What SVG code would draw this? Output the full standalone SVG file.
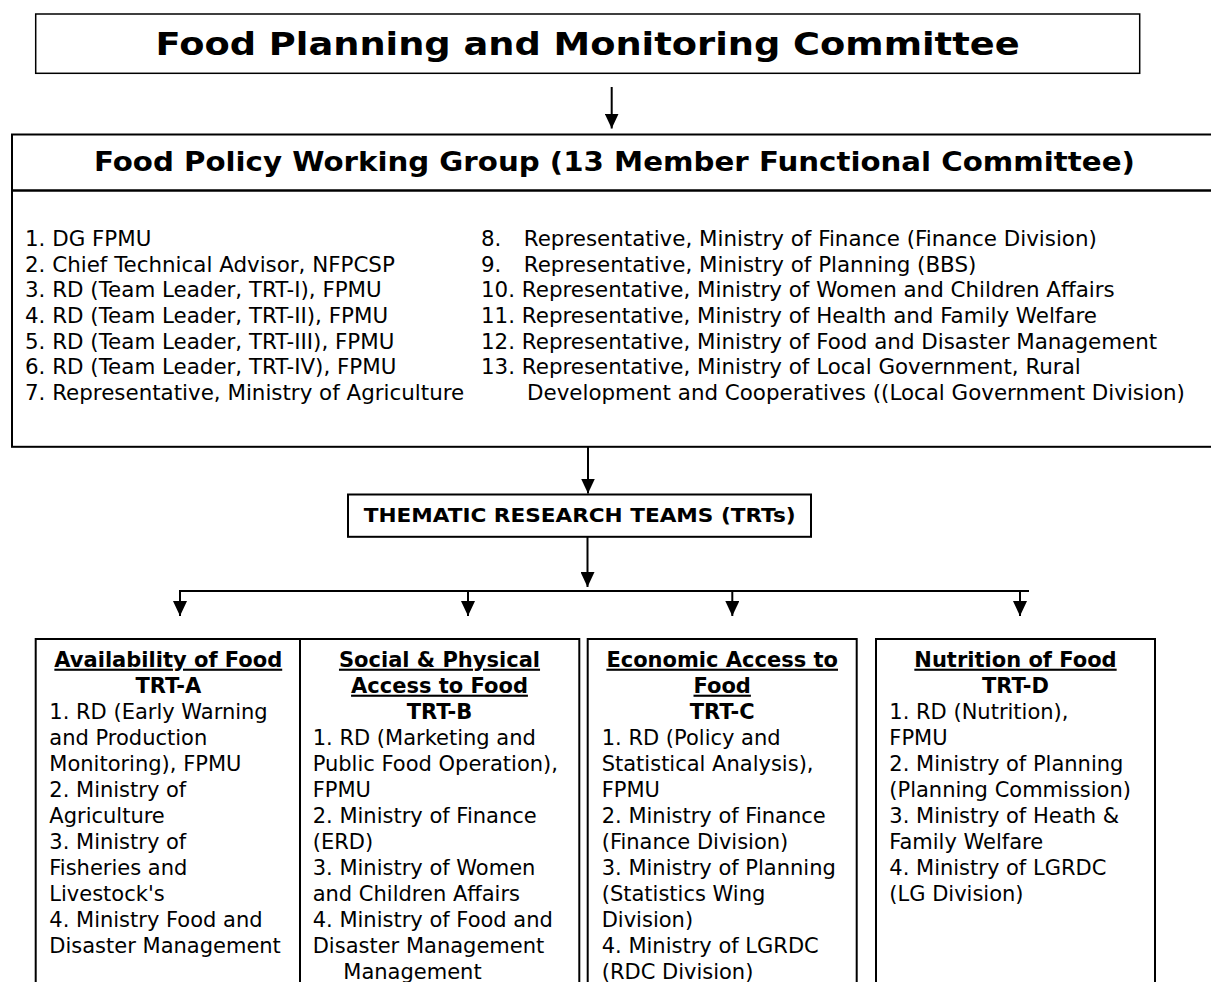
<svg xmlns="http://www.w3.org/2000/svg" width="1211" height="982" viewBox="0 0 1211 982">
  <style>
    .box { fill: #ffffff; stroke: #000000; stroke-width: 2; }
    .thin { stroke-width: 1.5; }
    .t { font-family: "DejaVu Sans", Verdana, sans-serif; fill: #000000; }
    .title { font-weight: bold; text-anchor: middle; }
    .body { font-size: 21px; }
    .list { font-size: 21.4px; }
    .hd { font-size: 21px; font-weight: bold; text-anchor: middle; }
    .ul { text-decoration: underline; }
    .conn { stroke: #000000; stroke-width: 2; fill: none; }
  </style>
  <defs>
    <marker id="arrow" viewBox="0 0 15 14" markerWidth="15" markerHeight="14" refX="15" refY="7" orient="auto" markerUnits="userSpaceOnUse">
      <path d="M0,0 L15,7 L0,14 Z" fill="#000000"/>
    </marker>
  </defs>
  <rect x="0" y="0" width="1211" height="982" fill="#ffffff"/>

  <g id="connectors">
    <line class="conn" x1="611.7" y1="87" x2="611.7" y2="128.5" stroke-width="1.5" marker-end="url(#arrow)"/>
    <line class="conn" x1="588" y1="447" x2="588" y2="493.5" marker-end="url(#arrow)"/>
    <line class="conn" x1="587.5" y1="537" x2="587.5" y2="587" marker-end="url(#arrow)"/>
    <line class="conn" x1="179" y1="591" x2="1029" y2="591"/>
    <line class="conn" x1="180" y1="591" x2="180" y2="616" marker-end="url(#arrow)"/>
    <line class="conn" x1="468" y1="591" x2="468" y2="616" marker-end="url(#arrow)"/>
    <line class="conn" x1="732.3" y1="591" x2="732.3" y2="616" marker-end="url(#arrow)"/>
    <line class="conn" x1="1020" y1="591" x2="1020" y2="616" marker-end="url(#arrow)"/>
  </g>

  <g id="node-fpmc">
    <rect class="box thin" x="35.7" y="14" width="1104" height="59.3"/>
    <text class="t title" x="587.6" y="54.5" font-size="32" textLength="864" lengthAdjust="spacingAndGlyphs">Food Planning and Monitoring Committee</text>
  </g>

  <g id="node-fpwg">
    <rect class="box" x="12" y="134.5" width="1210" height="312.3" stroke-width="2.5"/>
    <line x1="12" y1="190.5" x2="1215" y2="190.5" stroke="#000000" stroke-width="2.5"/>
    <text class="t title" x="614.4" y="171" font-size="27" textLength="1041" lengthAdjust="spacingAndGlyphs">Food Policy Working Group (13 Member Functional Committee)</text>
    <g class="t list">
      <text x="25" y="246">1. DG FPMU</text>
      <text x="25" y="272">2. Chief Technical Advisor, NFPCSP</text>
      <text x="25" y="297">3. RD (Team Leader, TRT-I), FPMU</text>
      <text x="25" y="323">4. RD (Team Leader, TRT-II), FPMU</text>
      <text x="25" y="349">5. RD (Team Leader, TRT-III), FPMU</text>
      <text x="25" y="374">6. RD (Team Leader, TRT-IV), FPMU</text>
      <text x="25" y="400">7. Representative, Ministry of Agriculture</text>
      <text y="246"><tspan x="481">8.</tspan><tspan x="517"> Representative, Ministry of Finance (Finance Division)</tspan></text>
      <text y="272"><tspan x="481">9.</tspan><tspan x="517"> Representative, Ministry of Planning (BBS)</tspan></text>
      <text x="481" y="297">10. Representative, Ministry of Women and Children Affairs</text>
      <text x="481" y="323">11. Representative, Ministry of Health and Family Welfare</text>
      <text x="481" y="349">12. Representative, Ministry of Food and Disaster Management</text>
      <text x="481" y="374">13. Representative, Ministry of Local Government, Rural</text>
      <text x="527" y="400">Development and Cooperatives ((Local Government Division)</text>
    </g>
  </g>

  <g id="node-trt">
    <rect class="box" x="348" y="494.5" width="463" height="42.3"/>
    <text class="t title" x="579.7" y="522" font-size="20" textLength="432" lengthAdjust="spacingAndGlyphs">THEMATIC RESEARCH TEAMS (TRTs)</text>
  </g>

  <g id="node-trt-a">
    <rect class="box" x="35.7" y="639" width="264.3" height="360"/>
    <text class="t hd ul" x="168.3" y="666.7">Availability of Food</text>
    <text class="t hd" x="168.3" y="692.7">TRT-A</text>
    <g class="t body">
      <text x="49.3" y="719">1. RD (Early Warning</text>
      <text x="49.3" y="745">and Production</text>
      <text x="49.3" y="771">Monitoring), FPMU</text>
      <text x="49.3" y="797">2. Ministry of</text>
      <text x="49.3" y="823">Agriculture</text>
      <text x="49.3" y="849">3. Ministry of</text>
      <text x="49.3" y="875">Fisheries and</text>
      <text x="49.3" y="901">Livestock's</text>
      <text x="49.3" y="927">4. Ministry Food and</text>
      <text x="49.3" y="953">Disaster Management</text>
    </g>
  </g>

  <g id="node-trt-b">
    <rect class="box" x="300" y="639" width="279.3" height="360"/>
    <text class="t hd ul" x="439.5" y="666.7">Social &amp; Physical</text>
    <text class="t hd ul" x="439.5" y="692.7">Access to Food</text>
    <text class="t hd" x="439.5" y="718.7">TRT-B</text>
    <g class="t body">
      <text x="312.7" y="745">1. RD (Marketing and</text>
      <text x="312.7" y="771">Public Food Operation),</text>
      <text x="312.7" y="797">FPMU</text>
      <text x="312.7" y="823">2. Ministry of Finance</text>
      <text x="312.7" y="849">(ERD)</text>
      <text x="312.7" y="875">3. Ministry of Women</text>
      <text x="312.7" y="901">and Children Affairs</text>
      <text x="312.7" y="927">4. Ministry of Food and</text>
      <text x="312.7" y="953">Disaster Management</text>
      <text x="343.3" y="979">Management</text>
    </g>
  </g>

  <g id="node-trt-c">
    <rect class="box" x="587.7" y="639" width="269" height="360"/>
    <text class="t hd ul" x="722.2" y="666.7">Economic Access to</text>
    <text class="t hd ul" x="722.2" y="692.7">Food</text>
    <text class="t hd" x="722.2" y="718.7">TRT-C</text>
    <g class="t body">
      <text x="601.7" y="745">1. RD (Policy and</text>
      <text x="601.7" y="771">Statistical Analysis),</text>
      <text x="601.7" y="797">FPMU</text>
      <text x="601.7" y="823">2. Ministry of Finance</text>
      <text x="601.7" y="849">(Finance Division)</text>
      <text x="601.7" y="875">3. Ministry of Planning</text>
      <text x="601.7" y="901">(Statistics Wing</text>
      <text x="601.7" y="927">Division)</text>
      <text x="601.7" y="953">4. Ministry of LGRDC</text>
      <text x="601.7" y="979">(RDC Division)</text>
    </g>
  </g>

  <g id="node-trt-d">
    <rect class="box" x="876" y="639" width="279" height="360"/>
    <text class="t hd ul" x="1015.5" y="666.7">Nutrition of Food</text>
    <text class="t hd" x="1015.5" y="692.7">TRT-D</text>
    <g class="t body">
      <text x="889.3" y="719">1. RD (Nutrition),</text>
      <text x="889.3" y="745">FPMU</text>
      <text x="889.3" y="771">2. Ministry of Planning</text>
      <text x="889.3" y="797">(Planning Commission)</text>
      <text x="889.3" y="823">3. Ministry of Heath &amp;</text>
      <text x="889.3" y="849">Family Welfare</text>
      <text x="889.3" y="875">4. Ministry of LGRDC</text>
      <text x="889.3" y="901">(LG Division)</text>
    </g>
  </g>
</svg>
